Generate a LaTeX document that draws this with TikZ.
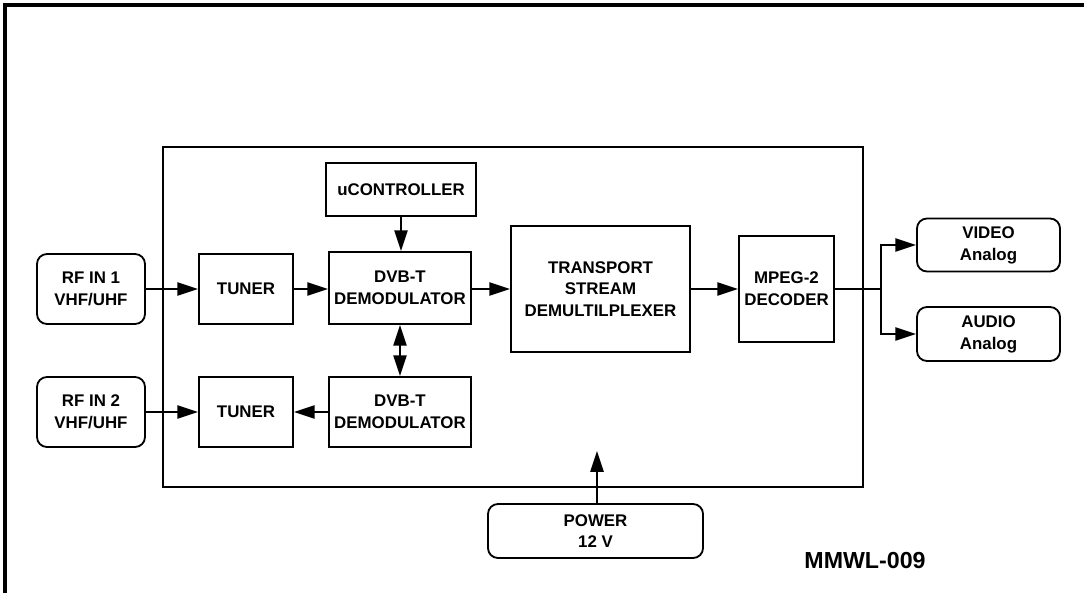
\documentclass[tikz,border=0pt]{standalone}
\usepackage{fontspec}
\setmainfont{Liberation Sans}
\usepackage{tikz}
\usetikzlibrary{arrows.meta, positioning}

\tikzset{
  blk/.style={draw, line width=1.3pt, inner sep=0pt, align=center,
    font=\fontsize{12}{15.5}\selectfont\bfseries},
  port/.style={blk, rounded corners=0.25cm},
  arr/.style={line width=1.3pt, -{Triangle[length=0.52cm, width=0.33cm]}},
  darr/.style={line width=1.3pt, {Triangle[length=0.52cm, width=0.33cm]}-{Triangle[length=0.52cm, width=0.33cm]}}
}

\begin{document}
\begin{tikzpicture}[x=0.025cm, y=-0.025cm]
        \useasboundingbox (0,0) rectangle (1084,593);

        % Sheet frame
        \draw[line width=2.2pt] (5,593) -- (5,5) -- (1084,5);

        % Receiver board
        \node[draw, line width=1.3pt, minimum width=17.5cm, minimum height=8.5cm] (board) at (513,317) {};

        % Blocks on the board
        \node[blk, minimum width=3.75cm, minimum height=1.325cm] (uctrl) at (401,189.5) {uCONTROLLER};
        \node[blk, minimum width=2.35cm, minimum height=1.75cm] (tuner1) at (246,289) {TUNER};
        \node[blk, minimum width=3.55cm, minimum height=1.8cm] (demod1) at (400,288) {DVB-T\\DEMODULATOR};
        \node[blk, minimum width=4.475cm, minimum height=3.15cm] (tsd) at (600.5,289) {TRANSPORT\\STREAM\\DEMULTILPLEXER};
        \node[blk, minimum width=2.375cm, minimum height=2.65cm] (mpeg) at (786.5,289) {MPEG-2\\DECODER};
        \node[blk, minimum width=2.35cm, minimum height=1.75cm] (tuner2) at (246,412) {TUNER};
        \node[blk, minimum width=3.55cm, minimum height=1.75cm] (demod2) at (400,412) {DVB-T\\DEMODULATOR};

        % Inputs and outputs
        \node[port, minimum width=2.7cm, minimum height=1.75cm] (rf1) at (91,289) {RF IN 1\\VHF/UHF};
        \node[port, minimum width=2.7cm, minimum height=1.75cm] (rf2) at (91,412) {RF IN 2\\VHF/UHF};
        \node[port, minimum width=3.575cm, minimum height=1.325cm] (video) at (988.5,245) {VIDEO\\Analog};
        \node[port, minimum width=3.575cm, minimum height=1.35cm] (audio) at (988.5,334) {AUDIO\\Analog};
        \node[port, minimum width=5.375cm, minimum height=1.35cm] (power) at (595.5,531) {POWER\\12 V};

        \node[font=\fontsize{16.5}{18}\selectfont\bfseries] (code) at (865,561) {MMWL-009};

        % Signal path
        \draw[arr] (rf1) -- (tuner1);
        \draw[arr] (tuner1) -- (tuner1 -| demod1.west);
        \draw[arr] (demod1.east |- tsd) -- (tsd);
        \draw[arr] (tsd) -- (mpeg);
        \draw[arr] (uctrl) -- (uctrl |- demod1.north);
        \draw[darr] (demod1) -- (demod2);
        \draw[arr] (demod2) -- (tuner2);
        \draw[arr] (rf2) -- (tuner2);

        % Output split
        \coordinate (split) at (881,289);
        \draw[line width=1.3pt] (mpeg) -- (split);
        \draw[arr] (split) |- (video);
        \draw[arr] (split) |- (audio);

        % Supply
        \coordinate (pin) at (597,451);
        \draw[arr] (power.north -| pin) -- (pin);
\end{tikzpicture}
\end{document}
